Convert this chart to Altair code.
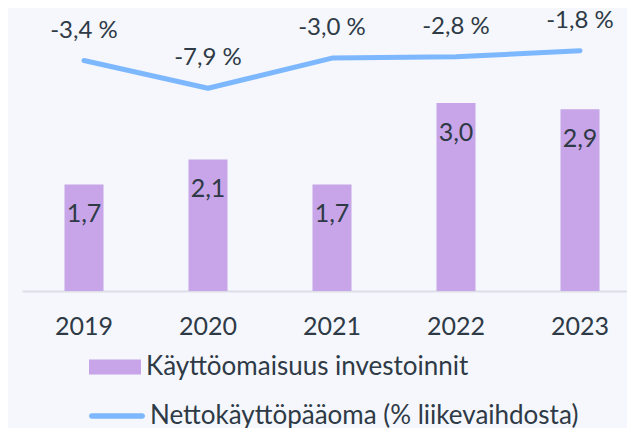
import altair as alt
import pandas as pd

years = ["2019", "2020", "2021", "2022", "2023"]
investments = [1.7, 2.1, 1.7, 3.0, 2.9]
nwc = [-3.4, -7.9, -3.0, -2.8, -1.8]
bar_series = "Käyttöomaisuus investoinnit"
line_series = "Nettokäyttöpääoma (% liikevaihdosta)"

PURPLE = "#C8A4E8"
BLUE = "#7DB8FF"
TEXT = "#2E3A46"
BG = "#F5F7FC"
FONT = "Lato"

bars_df = pd.DataFrame({
    "year": years,
    "value": investments,
    "label": [f"{v:.1f}".replace(".", ",") for v in investments],
    "series": bar_series,
})
line_df = pd.DataFrame({
    "year": years,
    "value": nwc,
    "label": [f"{v:.1f} %".replace(".", ",") for v in nwc],
    "series": line_series,
})

xenc = alt.X(
    "year:N",
    sort=years,
    scale=alt.Scale(paddingInner=0.68, paddingOuter=0.34, range=[0, 620]),
    axis=alt.Axis(
        title=None, labelAngle=0, ticks=False, grid=False,
        labelFontSize=25, labelFont=FONT, labelColor=TEXT,
        labelBaseline="alphabetic", labelPadding=43,
        domainColor="#DCDFE6", domainWidth=2,
    ),
)

ybar = alt.Y("value:Q", scale=alt.Scale(domain=[0, 4.5], nice=False, zero=False), axis=None)
yline = alt.Y("value:Q", scale=alt.Scale(domain=[-40.81, 4.97], nice=False, zero=False), axis=None)

bars = alt.Chart(bars_df).mark_bar(size=39).encode(
    x=xenc,
    y=ybar,
    color=alt.Color(
        "series:N",
        scale=alt.Scale(domain=[bar_series], range=[PURPLE]),
        legend=alt.Legend(
            title=None, orient="none", legendX=67, legendY=332, padding=0,
            symbolType="M-1,-0.29H1V0.29H-1Z", symbolSize=2704,
            symbolStrokeWidth=0, symbolFillColor=PURPLE, symbolOpacity=1,
            labelFont=FONT, labelFontSize=26, labelColor=TEXT, labelOffset=5,
            labelLimit=600,
        ),
    ),
)
bar_text = alt.Chart(bars_df).mark_text(
    font=FONT, fontSize=25, color=TEXT, baseline="alphabetic", dy=37.5
).encode(x=xenc, y=ybar, text="label:N")

line = alt.Chart(line_df).mark_line(strokeWidth=5, strokeCap="round", strokeJoin="round").encode(
    x=xenc,
    y=yline,
    stroke=alt.Stroke(
        "series:N",
        scale=alt.Scale(domain=[line_series], range=[BLUE]),
        legend=alt.Legend(
            title=None, orient="none", legendX=67, legendY=379, padding=0,
            symbolType="M-0.9,-0.1H0.9A0.1,0.1 0 0 1 0.9,0.1H-0.9A0.1,0.1 0 0 1 -0.9,-0.1Z",
            symbolSize=3136, symbolStrokeWidth=0, symbolFillColor=BLUE, symbolOpacity=1,
            labelFont=FONT, labelFontSize=26, labelColor=TEXT, labelOffset=5,
            labelLimit=600,
        ),
    ),
)
line_text = alt.Chart(line_df).mark_text(
    font=FONT, fontSize=24, color=TEXT, baseline="alphabetic", dy=-23
).encode(x=xenc, y=yline, text="label:N")

chart = alt.layer(
    alt.layer(bars, bar_text),
    alt.layer(line, line_text),
).resolve_scale(y="independent").properties(
    width=605, height=282,
    background=BG,
    padding={"left": 14, "top": 1, "right": 0, "bottom": 140},
    autosize=alt.AutoSizeParams(type="none"),
).configure_view(stroke=None)

chart.save("out.html", embed_options={"renderer": "svg", "actions": False})
